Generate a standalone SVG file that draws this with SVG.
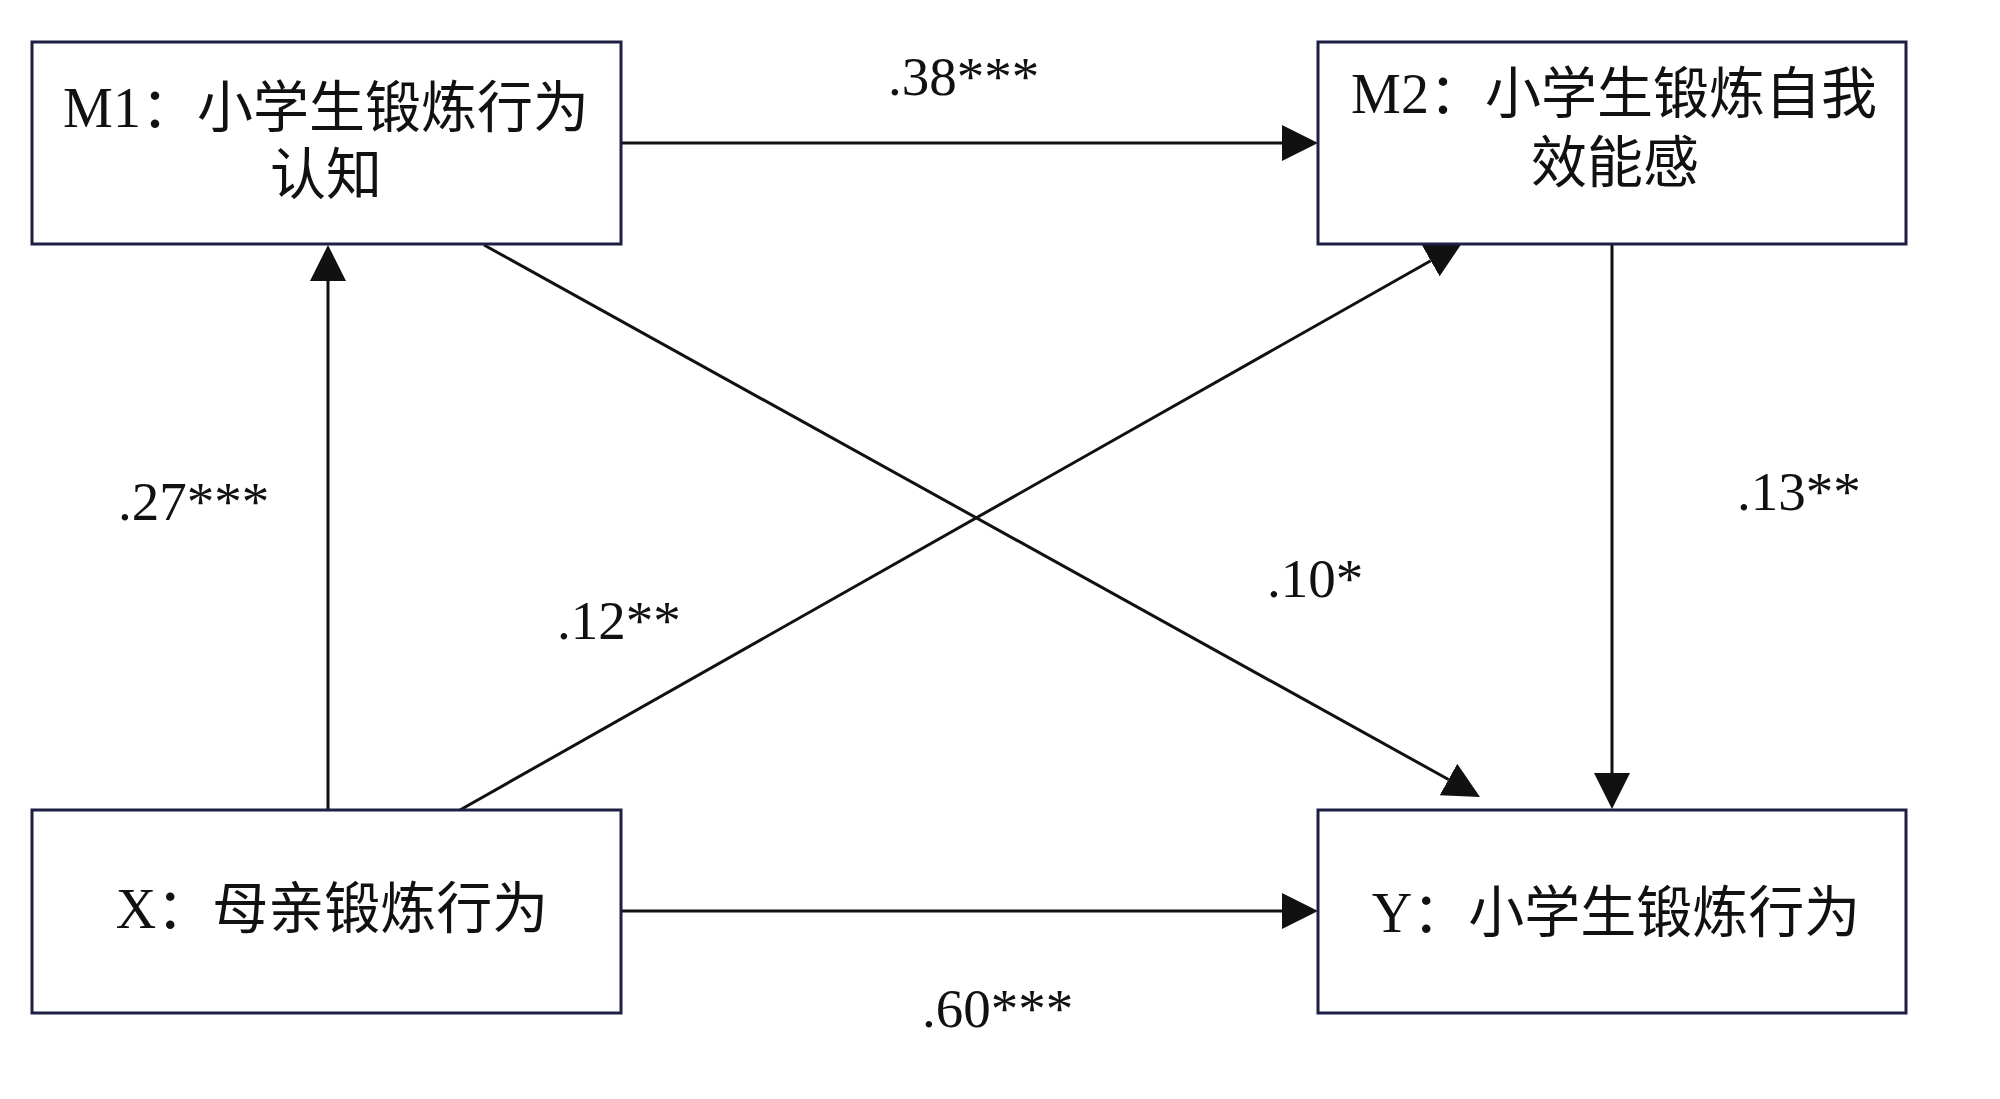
<svg xmlns="http://www.w3.org/2000/svg" width="2000" height="1099" viewBox="0 0 2000 1099">
<style>
.box{fill:#fff;stroke:#1f1f45;stroke-width:3}
.edge{stroke:#111;stroke-width:3;fill:none;marker-end:url(#ah)}
.lat{font-family:"Liberation Serif","Times New Roman",serif}
.cjk{font-family:"Noto Sans CJK SC","Noto Sans",sans-serif}
.node{font-size:56px;fill:#111;text-anchor:middle}
.lbl{font-family:"Liberation Serif","Times New Roman",serif;font-size:55px;fill:#111}
</style>
<defs>
<marker id="ah" markerUnits="userSpaceOnUse" viewBox="0 0 36 36" markerWidth="36" markerHeight="36" refX="0" refY="18" orient="auto">
<path d="M0,0 L36,18 L0,36 z" fill="#111"/>
</marker>
</defs>
<rect width="2000" height="1099" fill="#fff"/>
<g id="connectors">
<line class="edge" x1="621" y1="143" x2="1282" y2="143"/>
<line class="edge" x1="621" y1="911" x2="1282" y2="911"/>
<line class="edge" x1="328" y1="810" x2="328" y2="281"/>
<line class="edge" x1="1612" y1="244" x2="1612" y2="773"/>
<line class="edge" x1="484" y1="245" x2="1448.5" y2="779.5"/>
<line class="edge" x1="460" y1="810" x2="1430.7" y2="260.7"/>
</g>
<g id="labels">
<text class="lbl" x="888" y="95">.38***</text>
<text class="lbl" x="118" y="520">.27***</text>
<text class="lbl" x="557" y="639">.12**</text>
<text class="lbl" x="1267" y="597">.10*</text>
<text class="lbl" x="1737" y="510">.13**</text>
<text class="lbl" x="922" y="1027">.60***</text>
</g>
<g id="node-m1">
<rect class="box" x="32" y="42" width="589" height="202"/>
<text class="node" x="326" y="127"><tspan class="lat">M1</tspan><tspan class="cjk">：小学生锻炼行为</tspan></text>
<text class="node cjk" x="326" y="194">认知</text>
</g>
<g id="node-m2">
<rect class="box" x="1318" y="42" width="588" height="202"/>
<text class="node" x="1614" y="113"><tspan class="lat">M2</tspan><tspan class="cjk">：小学生锻炼自我</tspan></text>
<text class="node cjk" x="1615" y="182">效能感</text>
</g>
<g id="node-x">
<rect class="box" x="32" y="810" width="589" height="203"/>
<text class="node" x="332" y="928"><tspan class="lat">X</tspan><tspan class="cjk">：母亲锻炼行为</tspan></text>
</g>
<g id="node-y">
<rect class="box" x="1318" y="810" width="588" height="203"/>
<text class="node" x="1616" y="932"><tspan class="lat">Y</tspan><tspan class="cjk">：小学生锻炼行为</tspan></text>
</g>
</svg>
